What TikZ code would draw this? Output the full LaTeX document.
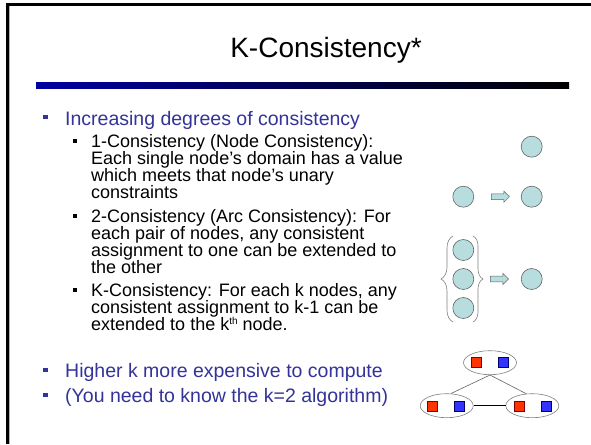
\documentclass[tikz,border=0pt]{standalone}
\usepackage{fontspec}
\setmainfont{Liberation Sans}
\usetikzlibrary{decorations.pathreplacing,shapes.arrows,shapes.geometric}
\definecolor{bulletblue}{RGB}{51,51,153}
\definecolor{nodefill}{RGB}{183,221,222}
\definecolor{bardark}{RGB}{0,0,160}
\definecolor{sqred}{RGB}{255,51,0}
\definecolor{sqblue}{RGB}{51,51,255}
\definecolor{edgegray}{RGB}{100,100,100}
\newcommand{\kthsup}[1]{\raisebox{5.5pt}{\fontsize{10}{10}\selectfont #1}}
\begin{document}
\begin{tikzpicture}[x=1pt,y=-1pt,
  mainitem/.style={anchor=base west, inner sep=0pt, text=bulletblue, font=\fontsize{19.5}{25}\selectfont},
  subitem/.style={anchor=base west, inner sep=0pt, font=\fontsize{18}{17}\selectfont},
  mbullet/.style={fill=bulletblue, minimum size=4.5pt, inner sep=0pt},
  sbullet/.style={fill=black, minimum size=4pt, inner sep=0pt},
  cnode/.style={circle, draw=edgegray, fill=nodefill, minimum size=21pt, inner sep=0pt, line width=0.6pt},
  blockarrow/.style={single arrow, draw=edgegray, fill=nodefill, minimum height=18pt, inner xsep=0pt, inner ysep=2.6pt, single arrow head extend=2.6pt, line width=0.5pt},
  dom/.style={ellipse, draw=gray, fill=white, minimum width=53pt, minimum height=24pt, inner sep=0pt, line width=0.6pt},
  rsq/.style={draw=red!50!black, fill=sqred, minimum size=10pt, inner sep=0pt, line width=0.5pt},
  bsq/.style={draw=blue!40!black, fill=sqblue, minimum size=10pt, inner sep=0pt, line width=0.5pt},
  bracestyle/.style={draw=gray, line width=0.6pt, decorate},
]
\useasboundingbox (0,0) rectangle (591,444);
\fill[white] (0,0) rectangle (591,444);
% frame
\draw[gray!60, line width=1pt] (9.6,6) -- (9.6,444);
\draw[black, line width=2.2pt] (7.5,3.4) -- (7.5,444);
\draw[black, line width=2.2pt] (6.4,4.5) -- (591,4.5);
% title
\node[anchor=base, inner sep=0pt, font=\fontsize{28}{34}\selectfont] (title) at (326,57) {K-Consistency*};
\shade[left color=bardark, right color=black] (36,82) rectangle (569,88);
% bullets
\node[mbullet] (b1) at (45.7,117) {};
\node[mainitem] (t1) at (65,125) {Increasing degrees of consistency};
\node[sbullet] (s1) at (75.3,141) {};
\node[subitem] (u1a) at (91,147) {1-Consistency (Node Consistency):};
\node[subitem] (u1b) at (91,164) {Each single node’s domain has a value};
\node[subitem] (u1c) at (91,181) {which meets that node’s unary};
\node[subitem] (u1d) at (91,198) {constraints};
\node[sbullet] (s2) at (75.3,216) {};
\node[subitem] (u2a) at (91,222) {2-Consistency (Arc Consistency): For};
\node[subitem] (u2b) at (91,239) {each pair of nodes, any consistent};
\node[subitem] (u2c) at (91,256) {assignment to one can be extended to};
\node[subitem] (u2d) at (91,273) {the other};
\node[sbullet] (s3) at (75.3,290) {};
\node[subitem] (u3a) at (91,296) {K-Consistency: For each k nodes, any};
\node[subitem] (u3b) at (91,313) {consistent assignment to k-1 can be};
\node[subitem] (u3c) at (91,330) {extended to the k\kthsup{th} node.};
\node[mbullet] (b2) at (45.7,370) {};
\node[mainitem] (t2) at (65,377) {Higher k more expensive to compute};
\node[mbullet] (b3) at (45.7,395) {};
\node[mainitem] (t3) at (65,402) {(You need to know the k=2 algorithm)};
% right diagrams
\node[cnode] (c0) at (531.7,146.7) {};
\node[cnode] (c1) at (463.3,196.7) {};
\node[blockarrow] (a1) at (499,196.7) {};
\node[cnode] (c2) at (531.7,196.7) {};
\node[cnode] (g1) at (463.3,250) {};
\node[cnode] (g2) at (463.3,279) {};
\node[cnode] (g3) at (463.3,308) {};
\node[blockarrow] (a2) at (498,279) {};
\node[cnode] (c3) at (531.7,279) {};
\draw[bracestyle, decoration={brace, amplitude=12pt}] (453,322) -- (453,236);
\draw[bracestyle, decoration={brace, amplitude=10pt}] (473,236) -- (473,322);
% constraint graph
\node[dom] (T) at (490,362.7) {};
\node[dom] (L) at (446.7,405.7) {};
\node[dom] (R) at (532.3,405.7) {};
\draw[edgegray, line width=0.6pt] (T.south) -- (L.71);
\draw[edgegray, line width=0.6pt] (T.south) -- (R.117);
\draw[black, line width=0.8pt] (L.east) -- (R.west);
\node[rsq] (Tr) at (476.3,362.5) {};
\node[bsq] (Tb) at (503.3,362.5) {};
\node[rsq] (Lr) at (432.3,406) {};
\node[bsq] (Lb) at (459.3,406) {};
\node[rsq] (Rr) at (519.3,406) {};
\node[bsq] (Rb) at (546.7,406) {};
\end{tikzpicture}
\end{document}
